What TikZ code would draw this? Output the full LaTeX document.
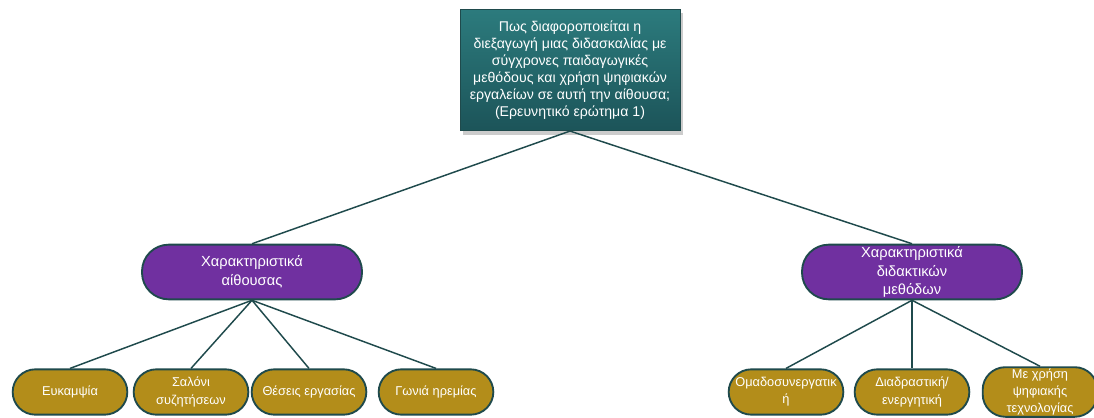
\documentclass[tikz,border=0pt]{standalone}
\usepackage{fontspec}
\setmainfont{Liberation Sans}
\usepackage{tikz}
\usetikzlibrary{positioning, shapes, shadows}

\definecolor{qtealtop}{HTML}{2C7B7D}
\definecolor{qtealbot}{HTML}{1C5459}
\definecolor{topicviolet}{HTML}{7030A0}
\definecolor{itemgold}{HTML}{B38D1A}
\definecolor{edgeteal}{HTML}{1F4A4C}

\begin{document}
\begin{tikzpicture}[x=0.75pt, y=-0.75pt,
        question/.style={draw=edgeteal, line width=0.6pt, top color=qtealtop, bottom color=qtealbot,
            minimum width=165pt, minimum height=91pt, align=center, text=white,
            font=\fontsize{10.6}{12.8}\selectfont, drop shadow={shadow xshift=2pt, shadow yshift=-3pt, opacity=0.4}},
        topic/.style={draw=edgeteal, line width=1.4pt, fill=topicviolet, rounded corners=20pt,
            minimum width=165pt, minimum height=41pt, inner ysep=1pt, align=center, text=white,
            font=\fontsize{11}{14}\selectfont},
        item/.style={draw=edgeteal, line width=1.4pt, fill=itemgold, rounded corners=17pt,
            minimum width=86pt, minimum height=34pt, inner ysep=1pt, align=center, text=white,
            font=\fontsize{9.6}{13}\selectfont},
        link/.style={draw=edgeteal, line width=1.1pt}]

    \useasboundingbox (0,0) rectangle (1094,417);

    % main question
    \node[question] (rq) at (570,70) {Πως διαφοροποιείται η\\ διεξαγωγή μιας διδασκαλίας με\\ σύγχρονες παιδαγωγικές\\ μεθόδους και χρήση ψηφιακών\\ εργαλείων σε αυτή την αίθουσα;\\ (Ερευνητικό ερώτημα 1)};

    % two groups
    \node[topic] (room) at (252,272) {Χαρακτηριστικά\\ αίθουσας};
    \node[topic] (method) at (912,272) {Χαρακτηριστικά\\ διδακτικών\\ μεθόδων};

    % items of the room
    \node[item] (flex) at (70,392) {Ευκαμψία};
    \node[item] (salon) at (191,392) {Σαλόνι\\ συζητήσεων};
    \node[item] (desks) at (309,392) {Θέσεις εργασίας};
    \node[item] (quiet) at (436,392) {Γωνιά ηρεμίας};

    % items of the methods
    \node[item] (group) at (786,392) {Ομαδοσυνεργατικ\\ ή};
    \node[item] (inter) at (912,392) {Διαδραστική/\\ ενεργητική};
    \node[item] (digital) at (1040,392) {Με χρήση\\ ψηφιακής\\ τεχνολογίας};

    \foreach \g in {room, method}
        \draw[link] (rq.south) -- (\g.north);
    \foreach \c in {flex, salon, desks, quiet}
        \draw[link] (room.south) -- (\c.north);
    \foreach \c in {group, inter, digital}
        \draw[link] (method.south) -- (\c.north);

\end{tikzpicture}
\end{document}
